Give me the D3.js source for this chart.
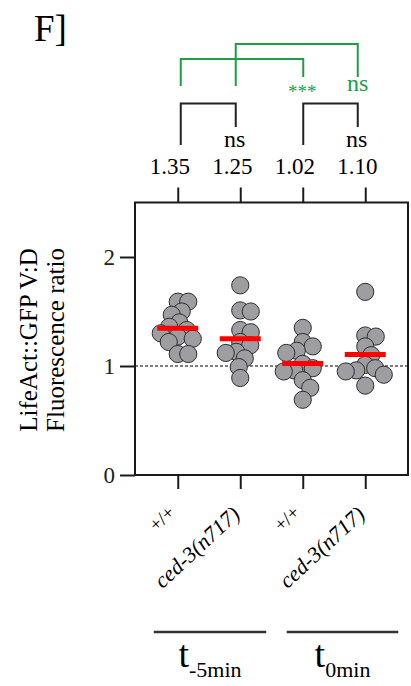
<!DOCTYPE html>
<html>
<head>
<meta charset="utf-8">
<script src="https://cdn.jsdelivr.net/npm/d3@7"></script>
<style>
  body { margin: 0; background: #fff; }
  svg { display: block; }
</style>
</head>
<body>
<div id="chart"></div>
<script>
// groups on the x axis
const groupIds = ["wt_m5", "ced3_m5", "wt_0", "ced3_0"];
const genotypeLabels = ["+/+", "ced-3(n717)", "+/+", "ced-3(n717)"];
const meanLabels = ["1.35", "1.25", "1.02", "1.10"];

// V:D fluorescence ratio per animal
const ratioWtM5 = [1.59, 1.59, 1.50, 1.47, 1.40, 1.36, 1.33, 1.30, 1.27, 1.25, 1.22, 1.11, 1.11];
const ratioCedM5 = [1.74, 1.51, 1.50, 1.33, 1.31, 1.22, 1.19, 1.13, 1.12, 1.07, 0.99, 0.89];
const ratioWt0 = [1.35, 1.22, 1.18, 1.14, 1.12, 1.02, 0.98, 0.96, 0.95, 0.87, 0.80, 0.69];
const ratioCed0 = [1.68, 1.28, 1.27, 1.18, 1.10, 1.01, 0.98, 0.96, 0.95, 0.92, 0.82];
const ratios = [ratioWtM5, ratioCedM5, ratioWt0, ratioCed0];

const yTicks = [0, 1, 2];
const timeSubs = ["-5min", "0min"];
const timeMembers = [[0, 1], [2, 3]];

// comparisons: [from, to, label]
const pairTests = [[0, 1, "ns"], [2, 3, "ns"]];
const crossTests = [[0, 2, "***"], [1, 3, "ns"]];

const W = 411, H = 686;
const serif = "'Liberation Serif', 'Times New Roman', serif";
const green = "#1e9e45";
const ink = "#1a1a1a";

const svg = d3.select("#chart").append("svg")
    .attr("width", W)
    .attr("height", H)
    .style("font-family", serif);

const x = d3.scalePoint().domain(groupIds).range([135, 408]).padding(0.684);
const y = d3.scaleLinear().domain([0, 2.5]).range([475, 202.5]);

// panel letter
svg.append("text")
    .attr("x", 34).attr("y", 41)
    .attr("font-size", 37)
    .text("F]");

// y axis title
const yTitle = ["LifeAct::GFP V:D", "Fluorescence ratio"];
yTitle.forEach((t, i) => {
    svg.append("text")
        .attr("transform", `translate(${37 + i * 27},340) rotate(-90)`)
        .attr("text-anchor", "middle")
        .attr("font-size", 25)
        .text(t);
});

// dashed reference at 1
svg.append("line")
    .attr("x1", 135).attr("x2", 408)
    .attr("y1", y(1)).attr("y2", y(1))
    .attr("stroke", "#000").attr("stroke-width", 1)
    .attr("stroke-dasharray", "3,2");

// frame + axes
const frame = svg.append("g");
frame.append("rect")
    .attr("x", 135).attr("y", y(2.5))
    .attr("width", 408 - 135).attr("height", y(0) - y(2.5))
    .attr("fill", "none").attr("stroke", ink).attr("stroke-width", 2);

const yAxis = svg.append("g")
    .attr("transform", "translate(135,0)")
    .call(d3.axisLeft(y).tickValues(yTicks).tickSize(15).tickSizeOuter(0).tickPadding(5).tickFormat(d3.format("d")));
yAxis.select(".domain").remove();
yAxis.selectAll("line").attr("stroke", ink).attr("stroke-width", 2);
yAxis.selectAll("text").attr("font-size", 23).attr("font-family", serif).attr("fill", "#222");

const xBottom = svg.append("g")
    .attr("transform", `translate(0,${y(0)})`)
    .call(d3.axisBottom(x).tickSize(14).tickSizeOuter(0).tickFormat(""));
xBottom.select(".domain").remove();
xBottom.selectAll("line").attr("stroke", ink).attr("stroke-width", 2);

const xTop = svg.append("g")
    .attr("transform", `translate(0,${y(2.5)})`)
    .call(d3.axisTop(x).tickSize(15).tickSizeOuter(0).tickFormat(""));
xTop.select(".domain").remove();
xTop.selectAll("line").attr("stroke", ink).attr("stroke-width", 2);

// simple beeswarm: keep dots near the group centre, dots overlap a fair bit
const r = 8.6, minD = 10.5;
function swarm(values, cx) {
    const placed = [];
    const order = values.map((v, i) => i).sort((a, b) => values[b] - values[a]);
    order.forEach(i => {
        const py = y(values[i]);
        let px = cx;
        for (let k = 0; k < 400; k++) {
            const off = (k % 2 ? 1 : -1) * Math.ceil(k / 2) * 0.5;
            const cand = cx + off;
            if (placed.every(p => Math.hypot(p.x - cand, p.y - py) >= minD)) { px = cand; break; }
        }
        placed.push({ x: px, y: py, v: values[i] });
    });
    return placed;
}

const dots = svg.append("g");
ratios.forEach((vals, gi) => {
    const cx = x(groupIds[gi]);
    dots.selectAll(null)
        .data(swarm(vals, cx))
        .enter().append("circle")
        .attr("cx", d => d.x)
        .attr("cy", d => d.y)
        .attr("r", r)
        .attr("fill", "#9d9da2")
        .attr("stroke", "#2e2e2e")
        .attr("stroke-width", 1);
});

// mean bars
svg.append("g").selectAll("line")
    .data(ratios.map((vals, gi) => ({ cx: x(groupIds[gi]), m: d3.mean(vals) })))
    .enter().append("line")
    .attr("x1", d => d.cx - 20.5).attr("x2", d => d.cx + 20.5)
    .attr("y1", d => y(d.m)).attr("y2", d => y(d.m))
    .attr("stroke", "#ff0000").attr("stroke-width", 5);

// mean values above the frame
svg.append("g").selectAll("text")
    .data(meanLabels)
    .enter().append("text")
    .attr("x", (d, i) => x(groupIds[i]) - 8)
    .attr("y", 174)
    .attr("text-anchor", "middle")
    .attr("font-size", 23)
    .text(d => d);

// bracket legs sit slightly inside the group centres
const legShift = [3, -4.5, 0.5, -7.5];
const legX = i => x(groupIds[i]) + legShift[i];

function bracket(g, a, b, top, leftEnd, rightEnd, colour) {
    g.append("path")
        .attr("d", d3.line()([[legX(a), leftEnd], [legX(a), top], [legX(b), top], [legX(b), rightEnd]]))
        .attr("fill", "none")
        .attr("stroke", colour)
        .attr("stroke-width", 2);
}

const tests = svg.append("g");
pairTests.forEach(([a, b, lab]) => {
    bracket(tests, a, b, 103.5, 145, 127, "#222");
    tests.append("text")
        .attr("x", legX(b) - 1).attr("y", 147)
        .attr("text-anchor", "middle")
        .attr("font-size", 24)
        .text(lab);
});

const crossTop = [59, 44];
crossTests.forEach(([a, b, lab], i) => {
    bracket(tests, a, b, crossTop[i], 86, 77, green);
    tests.append("text")
        .attr("x", legX(b) + (lab === "***" ? -1 : 0))
        .attr("y", lab === "***" ? 98 : 91)
        .attr("text-anchor", "middle")
        .attr("font-size", lab === "***" ? 19 : 24)
        .attr("fill", green)
        .text(lab);
});

// genotype labels, rotated
const xLab = svg.append("g");
genotypeLabels.forEach((lab, i) => {
    const plain = lab === "+/+";
    xLab.append("text")
        .attr("transform", `translate(${x(groupIds[i]) + (plain ? -2 : 1)},${plain ? 514 : 516}) rotate(-43)`)
        .attr("text-anchor", "end")
        .attr("font-size", plain ? 19 : 22)
        .attr("font-style", plain ? "normal" : "italic")
        .text(lab);
});

// time groups
const lineShift = [[-24, 26], [-16, 33]];
timeMembers.forEach((m, i) => {
    const x0 = x(groupIds[m[0]]) + lineShift[i][0];
    const x1 = x(groupIds[m[1]]) + lineShift[i][1];
    svg.append("line")
        .attr("x1", x0).attr("x2", x1)
        .attr("y1", 632).attr("y2", 632)
        .attr("stroke", "#333").attr("stroke-width", 2.5);
    const t = svg.append("text")
        .attr("x", (x0 + x1) / 2)
        .attr("y", 667)
        .attr("text-anchor", "middle");
    t.append("tspan").attr("font-size", 38).text("t");
    t.append("tspan").attr("font-size", 22).attr("dy", 10).text(timeSubs[i]);
});
</script>
</body>
</html>
